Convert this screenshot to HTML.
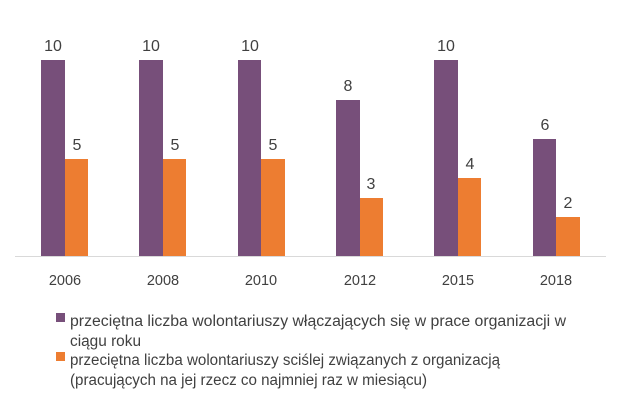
<!DOCTYPE html>
<html><head><meta charset="utf-8"><style>
body{margin:0;background:#fff;}
svg text{font-family:"Liberation Sans",sans-serif;fill:#404040;}
</style></head><body>
<svg width="634" height="406" xmlns="http://www.w3.org/2000/svg">
<rect width="634" height="406" fill="#fff"/>
<line x1="15" y1="256.5" x2="606" y2="256.5" stroke="#d9d9d9" stroke-width="1"/>
<g font-size="16" text-anchor="middle">
<rect x="41" y="60" width="24" height="196" fill="#774f7a"/><rect x="65" y="159" width="23" height="97" fill="#ed7d31"/>
<text x="53" y="51">10</text><text x="77" y="150">5</text><text x="65" y="285" font-size="14.5">2006</text>

<rect x="139" y="60" width="24" height="196" fill="#774f7a"/><rect x="163" y="159" width="23" height="97" fill="#ed7d31"/>
<text x="151" y="51">10</text><text x="175" y="150">5</text><text x="163" y="285" font-size="14.5">2008</text>

<rect x="238" y="60" width="23" height="196" fill="#774f7a"/><rect x="261" y="159" width="24" height="97" fill="#ed7d31"/>
<text x="250" y="51">10</text><text x="273" y="150">5</text><text x="261" y="285" font-size="14.5">2010</text>

<rect x="336" y="100" width="24" height="156" fill="#774f7a"/><rect x="360" y="198" width="23" height="58" fill="#ed7d31"/>
<text x="348" y="91">8</text><text x="371" y="189">3</text><text x="360" y="285" font-size="14.5">2012</text>

<rect x="434" y="60" width="24" height="196" fill="#774f7a"/><rect x="458" y="178" width="23" height="78" fill="#ed7d31"/>
<text x="446" y="51">10</text><text x="470" y="169">4</text><text x="458" y="285" font-size="14.5">2015</text>

<rect x="533" y="139" width="23" height="117" fill="#774f7a"/><rect x="556" y="217" width="24" height="39" fill="#ed7d31"/>
<text x="545" y="130">6</text><text x="568" y="208">2</text><text x="556" y="285" font-size="14.5">2018</text>
</g>
<rect x="56" y="313" width="9" height="9" fill="#774f7a"/>
<rect x="56" y="352" width="9" height="9" fill="#ed7d31"/>
<g font-size="15.5">
<text x="70" y="326" textLength="496" lengthAdjust="spacingAndGlyphs">przeciętna liczba wolontariuszy włączających się w prace organizacji w</text>
<text x="70" y="346" textLength="71" lengthAdjust="spacingAndGlyphs">ciągu roku</text>
<text x="70" y="365" textLength="430" lengthAdjust="spacingAndGlyphs">przeciętna liczba wolontariuszy sciślej związanych z organizacją</text>
<text x="70" y="385" textLength="357" lengthAdjust="spacingAndGlyphs">(pracujących na jej rzecz co najmniej raz w miesiącu)</text>
</g>
</svg>
</body></html>
